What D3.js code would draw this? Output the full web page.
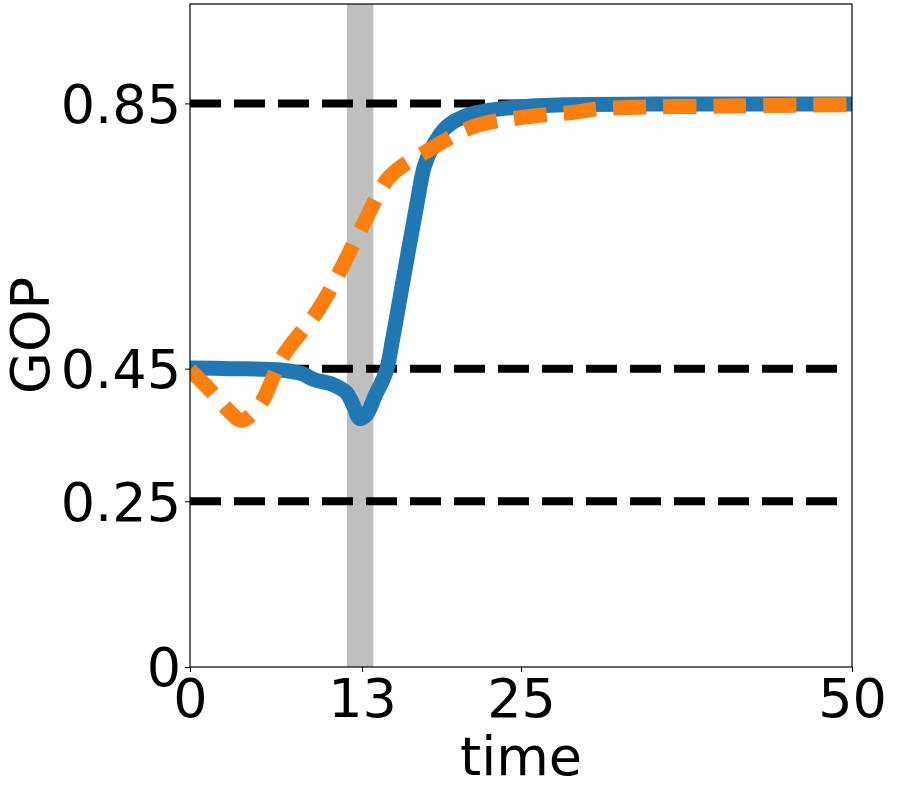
<!DOCTYPE html>
<html>
<head>
<meta charset="utf-8">
<script src="https://cdn.jsdelivr.net/npm/d3@7"></script>
<style>
  body { margin: 0; background: #fff; }
  svg text { font-family: "DejaVu Sans", sans-serif; fill: #000; }
</style>
</head>
<body>
<svg id="chart"></svg>
<script>
// blue (solid) series
var blueTime = [0, 3, 6.8, 8.5, 9.3, 10.8, 11.8, 12.4, 12.8, 13.3, 14, 14.8, 15.3, 16.2, 17.1, 17.7, 18.3, 19.4, 21.1, 24.4, 28.2, 35, 50];
var blueGOP = [0.451, 0.45, 0.448, 0.442, 0.434, 0.426, 0.414, 0.392, 0.375, 0.38, 0.41, 0.445, 0.494, 0.595, 0.694, 0.755, 0.784, 0.815, 0.833, 0.844, 0.848, 0.849, 0.849];
// orange (dashed) series
var orangeTime = [0, 1.5, 3, 3.9, 5.3, 7.0, 9.7, 11.5, 13.2, 15.1, 17.9, 21.4, 25.1, 28.7, 31, 40, 50];
var orangeGOP = [0.448, 0.418, 0.385, 0.372, 0.396, 0.468, 0.539, 0.604, 0.672, 0.74, 0.778, 0.815, 0.829, 0.836, 0.842, 0.846, 0.848];
// reference levels and highlighted interval
var refLevels = [0.85, 0.45, 0.25];
var refEnd = 49;
var bandRange = [11.85, 13.85];
var xTicks = [0, 13, 25, 50];
var yTicks = [0, 0.25, 0.45, 0.85];

var margin = { top: 4, right: 50, bottom: 123, left: 190 },
    width = 902 - margin.left - margin.right,
    height = 790 - margin.top - margin.bottom;

var root = d3.select("#chart")
    .attr("width", 902)
    .attr("height", 790);

root.append("defs").append("clipPath")
    .attr("id", "plotClip")
    .append("rect")
    .attr("width", width)
    .attr("height", height);

var svg = root.append("g")
    .attr("transform", "translate(" + margin.left + "," + margin.top + ")");

var x = d3.scaleLinear().domain([0, 50]).range([0, width]);
var y = d3.scaleLinear().domain([0, 1]).range([height, 0]);

var plot = svg.append("g").attr("clip-path", "url(#plotClip)");

plot.append("rect")
    .attr("x", x(bandRange[0]))
    .attr("width", x(bandRange[1]) - x(bandRange[0]))
    .attr("y", 0)
    .attr("height", height)
    .attr("fill", "#bfbfbf");

plot.selectAll(".ref")
    .data(refLevels)
    .enter().append("line")
    .attr("class", "ref")
    .attr("x1", x(0))
    .attr("x2", x(refEnd))
    .attr("y1", function(d) { return y(d); })
    .attr("y2", function(d) { return y(d); })
    .attr("stroke", "#000")
    .attr("stroke-width", 8)
    .attr("stroke-dasharray", "31,13");

var line = d3.line()
    .x(function(d) { return x(d[0]); })
    .y(function(d) { return y(d[1]); })
    .curve(d3.curveCatmullRom);

plot.append("path")
    .datum(d3.zip(blueTime, blueGOP))
    .attr("d", line)
    .attr("fill", "none")
    .attr("stroke", "#1f77b4")
    .attr("stroke-width", 15)
    .attr("stroke-linejoin", "round")
    .attr("stroke-linecap", "round");

plot.append("path")
    .datum(d3.zip(orangeTime, orangeGOP))
    .attr("d", line)
    .attr("fill", "none")
    .attr("stroke", "#ff7f0e")
    .attr("stroke-width", 15)
    .attr("stroke-dasharray", "33,17");

// frame
svg.append("rect")
    .attr("width", width)
    .attr("height", height)
    .attr("fill", "none")
    .attr("stroke", "#000")
    .attr("stroke-width", 1.2);

var xAxis = d3.axisBottom(x).tickValues(xTicks).tickFormat(d3.format("d")).tickSize(5).tickPadding(4);
var yAxis = d3.axisLeft(y).tickValues(yTicks).tickFormat(function(d) { return d === 0 ? "0" : d3.format(".2f")(d); }).tickSize(5).tickPadding(4);

var gx = svg.append("g")
    .attr("transform", "translate(0," + height + ")")
    .call(xAxis);
gx.select(".domain").remove();
gx.selectAll("text").style("font-size", "54px").attr("dy", "0.75em");

var gy = svg.append("g").call(yAxis);
gy.select(".domain").remove();
gy.selectAll("text").style("font-size", "54px").attr("dy", "0.35em");

svg.append("text")
    .attr("x", width / 2)
    .attr("y", height + 108)
    .attr("text-anchor", "middle")
    .style("font-size", "54px")
    .text("time");

svg.append("text")
    .attr("transform", "translate(-141," + (height / 2) + ") rotate(-90)")
    .attr("text-anchor", "middle")
    .style("font-size", "54px")
    .text("GOP");
</script>
</body>
</html>
